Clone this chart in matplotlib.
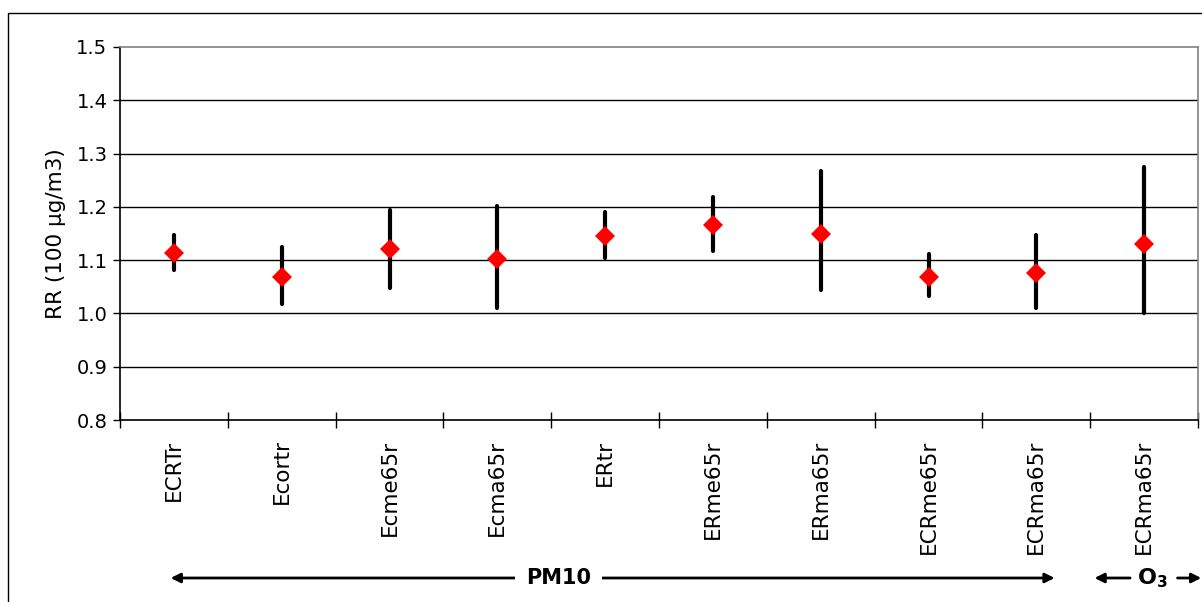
import matplotlib
matplotlib.use("Agg")
import matplotlib.pyplot as plt
import matplotlib.transforms as mtransforms
from matplotlib.patches import Rectangle

plt.rcParams['font.family'] = ['DejaVu Sans']
plt.rcParams['mathtext.fontset'] = 'dejavusans'

# Relative risk per 100 µg/m3 with confidence bounds
categories = ["ECRTr", "Ecortr", "Ecme65r", "Ecma65r", "ERtr",
              "ERme65r", "ERma65r", "ECRme65r", "ECRma65r", "ECRma65r"]
rr = [1.113, 1.069, 1.120, 1.102, 1.146, 1.166, 1.149, 1.069, 1.075, 1.130]
rr_low = [1.082, 1.018, 1.048, 1.011, 1.104, 1.117, 1.044, 1.032, 1.010, 1.000]
rr_high = [1.148, 1.124, 1.194, 1.202, 1.191, 1.218, 1.268, 1.111, 1.147, 1.275]
y_ticks = [0.8, 0.9, 1.0, 1.1, 1.2, 1.3, 1.4, 1.5]

W, H = 1202, 602
fig = plt.figure(figsize=(W / 100, H / 100), dpi=100)
ax = fig.add_axes([120 / W, (H - 420) / H, (1198 - 120) / W, (420 - 47) / H])

x = list(range(len(categories)))

# horizontal gridlines
for v in y_ticks[1:-1]:
    ax.axhline(v, color="black", lw=1.0, zorder=1)

ax.vlines(x, rr_low, rr_high, color="black", lw=3.0, capstyle="round", zorder=2)
ax.plot(x, rr, linestyle="none", marker="D", ms=10, color="#ff0000",
        markeredgewidth=0, zorder=3)

ax.set_xlim(-0.5, len(categories) - 0.5)
ax.set_ylim(0.8, 1.5)
ax.set_yticks(y_ticks)
ax.set_yticklabels([f"{v:.1f}" for v in y_ticks])
ax.tick_params(axis="y", direction="out", length=5, width=1, pad=4,
               labelsize=14, color="black")

ax.set_xticks(x)
ax.set_xticklabels(categories, rotation=90, fontsize=15.5)
ax.tick_params(axis="x", which="major", length=0, pad=14)
ax.set_xticks([i - 0.5 for i in range(len(categories) + 1)], minor=True)
ax.tick_params(axis="x", which="minor", direction="inout", length=12, width=1,
               color="black")

ax.set_ylabel("RR (100 µg/m3)", fontsize=15.5)
ax.yaxis.set_label_coords(-0.050, 0.5)

for side in ("left", "bottom"):
    ax.spines[side].set_color("black")
    ax.spines[side].set_linewidth(1.2)
for side in ("top", "right"):
    ax.spines[side].set_color("#808080")
    ax.spines[side].set_linewidth(1.2)

# pollutant group annotations below the category labels
trans = mtransforms.blended_transform_factory(ax.transData, fig.transFigure)
y_arr = (H - 578) / H
arrow_kw = dict(arrowstyle="<|-|>", color="black", lw=2,
                mutation_scale=14, shrinkA=0, shrinkB=0)
ax.annotate("", xy=(-0.03, y_arr), xytext=(8.17, y_arr),
            xycoords=trans, textcoords=trans, arrowprops=arrow_kw,
            annotation_clip=False)
ax.text(3.57, y_arr, "PM10", transform=trans, ha="center", va="center",
        fontsize=15, fontweight="bold", clip_on=False,
        bbox=dict(facecolor="white", edgecolor="none", pad=8))

single_kw = dict(arrowstyle="-|>", color="black", lw=2,
                 mutation_scale=14, shrinkA=0, shrinkB=0)
ax.annotate("", xy=(8.54, y_arr), xytext=(8.87, y_arr),
            xycoords=trans, textcoords=trans, arrowprops=single_kw,
            annotation_clip=False)
ax.annotate("", xy=(9.53, y_arr), xytext=(9.31, y_arr),
            xycoords=trans, textcoords=trans, arrowprops=single_kw,
            annotation_clip=False)
ax.text(9.08, y_arr, r"$\mathbf{O}_{\mathbf{3}}$", transform=trans,
        ha="center", va="center", fontsize=16, clip_on=False)

# chart area frame
fig.add_artist(Rectangle((7.5 / W, -0.1), 1.2, (H - 12.7) / H + 0.1,
                         transform=fig.transFigure, fill=False,
                         edgecolor="black", lw=1.0))

fig.savefig("out.png", dpi=100, facecolor="white")
